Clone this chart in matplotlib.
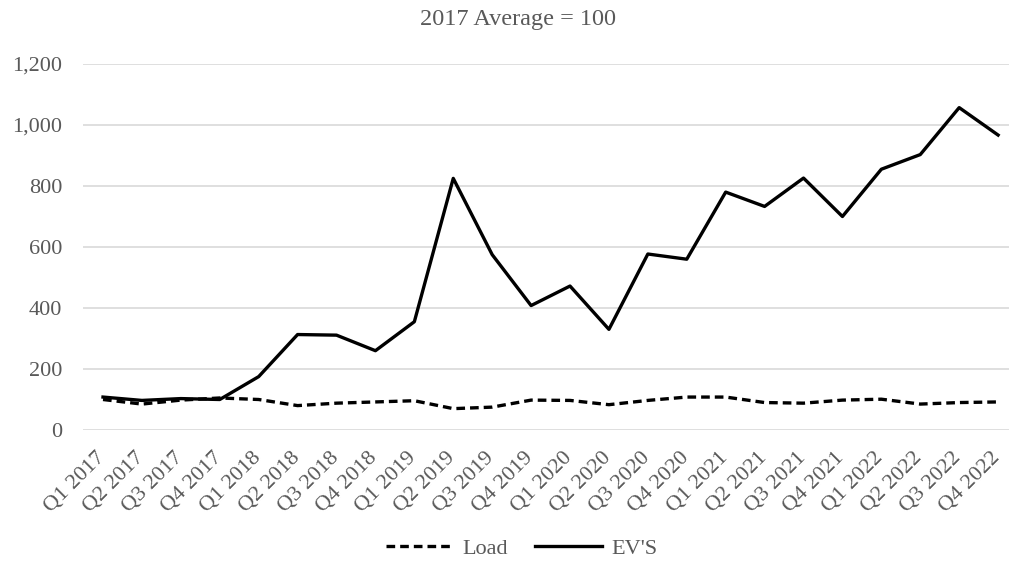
import matplotlib
matplotlib.use("Agg")
import matplotlib.pyplot as plt
from matplotlib.ticker import FuncFormatter
from matplotlib.transforms import ScaledTranslation

quarters = [f"Q{q} {y}" for y in range(2017, 2023) for q in range(1, 5)]
ev = [108, 97, 103, 100, 175, 313, 311, 260, 355, 825, 575, 408,
      472, 330, 577, 560, 780, 733, 826, 700, 855, 903, 1057, 967]
load = [100, 85, 98, 105, 100, 80, 88, 92, 96, 70, 75, 98,
        97, 83, 97, 108, 108, 90, 88, 98, 101, 85, 90, 92]

plt.rcParams['font.family'] = ['Liberation Serif', 'DejaVu Serif']
gray = '#595959'

W, H = 1009, 573
fig = plt.figure(figsize=(W / 100, H / 100), dpi=100)
ax = fig.add_axes([83 / W, 143 / H, (W - 83) / W, 366 / H])
x = list(range(len(quarters)))
ax.plot(x, load, color='black', lw=2.4, ls=(0, (2.6, 1.5)), label='Load')
ax.plot(x, ev, color='black', lw=2.4, label="EV'S")
ax.set_xlim(-0.514, 23.28)
ax.set_ylim(0, 1200)
ax.set_yticks(range(0, 1201, 200))
ax.yaxis.set_major_formatter(FuncFormatter(lambda v, p: f"{int(v):,}"))
ax.grid(axis='y', color='#d9d9d9', lw=1.2)
ax.set_axisbelow(True)
for s in ax.spines.values():
    s.set_visible(False)
ax.set_xticks(x)
ax.set_xticklabels(quarters, rotation=45, ha='right', va='center', rotation_mode='anchor')
ax.tick_params(axis='both', length=0, labelsize=16, labelcolor=gray)
ax.tick_params(axis='y', pad=15)
ax.tick_params(axis='x', pad=18)
off = ScaledTranslation(-0.5 / 72, 0, fig.dpi_scale_trans)
for lbl in ax.get_xticklabels():
    lbl.set_transform(lbl.get_transform() + off)
fig.text(518 / W, 1 - 19 / H, "2017 Average = 100", ha='center', va='center', fontsize=17.5, color=gray)
fig.legend(loc='center', bbox_to_anchor=(522 / W, 1 - 549 / H), ncol=2, frameon=False,
           fontsize=16, labelcolor=gray, handlelength=3.0, columnspacing=1.2, handletextpad=0.45)
fig.savefig('out.png', dpi=100)
